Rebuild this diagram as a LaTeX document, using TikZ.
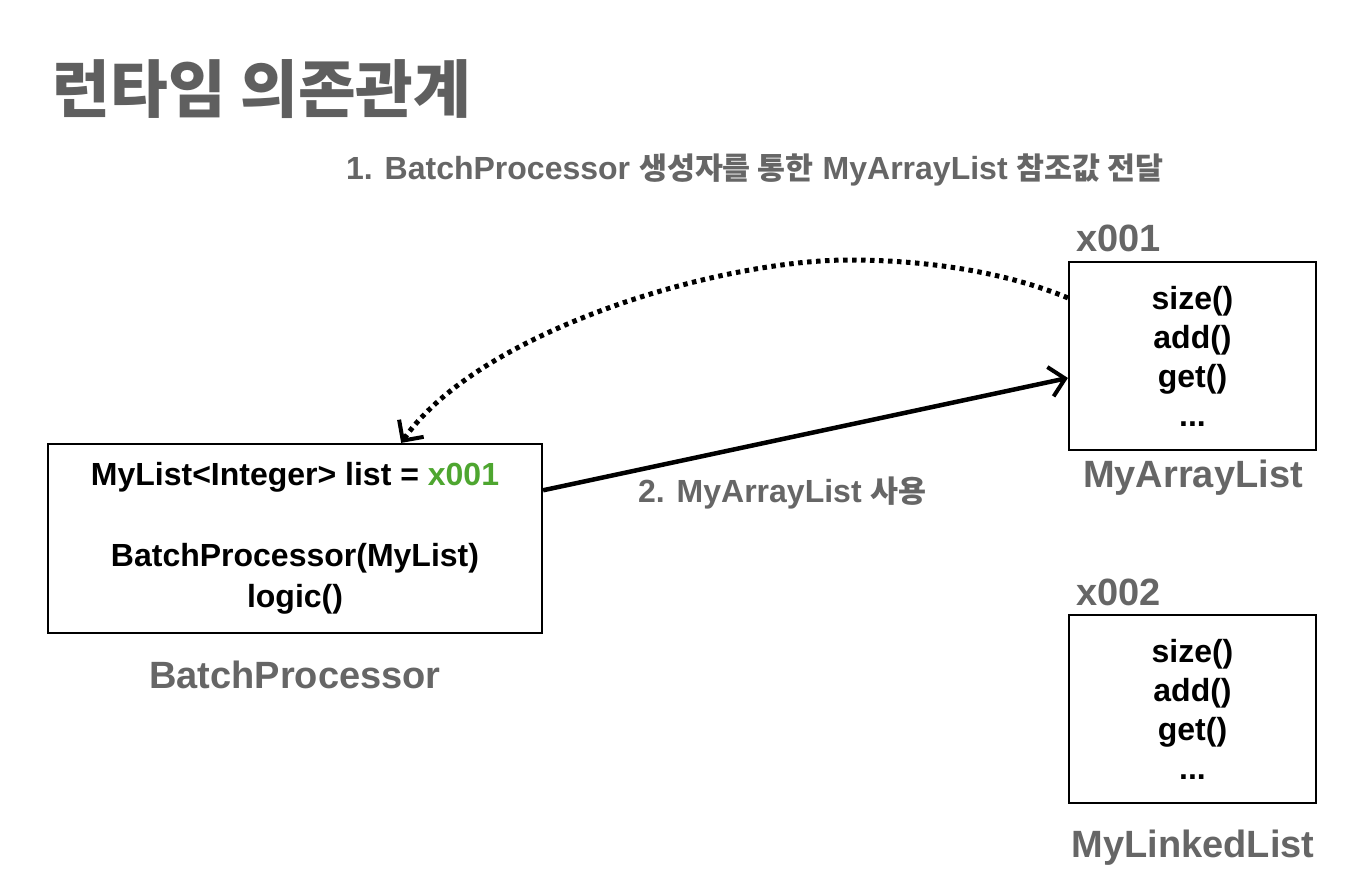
\documentclass[tikz,border=0pt]{standalone}
\usepackage{fontspec}
\setmainfont{Liberation Sans}
\newfontfamily\kr{Noto Sans CJK KR}[Scale=0.95]
\usetikzlibrary{arrows.meta}
\definecolor{labgray}{RGB}{102,102,102}
\definecolor{titlegray}{RGB}{95,95,95}
\definecolor{refgreen}{RGB}{78,166,48}
\newcommand\K[1]{{\kr #1}}
\tikzset{
  box/.style={draw=black, line width=2.2pt, rectangle, inner sep=0pt, align=center,
    font=\bfseries\fontsize{32}{39}\selectfont},
  graylab/.style={text=labgray, inner sep=0pt, font=\bfseries\fontsize{38}{42}\selectfont},
  steplab/.style={text=labgray, inner sep=0pt, font=\bfseries\fontsize{32}{36}\selectfont},
  solidarrow/.style={line width=4.5pt, -{Straight Barb[length=15pt,width=30pt,line width=4pt]}},
  dotarrow/.style={line width=5pt, dash pattern=on 4.5pt off 4.5pt,
    -{Straight Barb[length=15pt,width=30pt,line width=4pt]}}
}
\begin{document}
\begin{tikzpicture}[x=1pt,y=-1pt]
\useasboundingbox (0,0) rectangle (1366,880);
\fill[white] (0,0) rectangle (1366,880);

\node[text=titlegray, inner sep=0pt, font=\kr\bfseries\fontsize{66}{70}\selectfont] (title) at (262,89) {런타임 의존관계};

\node[steplab, anchor=west] (step1) at (346,170) {1. BatchProcessor \K{생성자를 통한} MyArrayList \K{참조값 전달}};

% MyArrayList box
\node[graylab, anchor=west] (addr1) at (1076,238) {x001};
\node[box, minimum width=247pt, minimum height=188pt] (arr) at (1192.5,356)
  {size()\\add()\\get()\\...};
\node[graylab] (arrname) at (1193,478) {MyArrayList};

% MyLinkedList box
\node[graylab, anchor=west] (addr2) at (1076,592) {x002};
\node[box, minimum width=247pt, minimum height=188pt] (lnk) at (1192.5,709)
  {size()\\add()\\get()\\...};
\node[graylab] (lnkname) at (1193,848) {MyLinkedList};

% BatchProcessor box
\node[box, minimum width=494pt, minimum height=189pt, font=\bfseries\fontsize{32}{40.5}\selectfont] (bp) at (295,538.5)
  {MyList<Integer> list = \textcolor{refgreen}{x001}\\[0pt] \\ BatchProcessor(MyList)\\logic()};
\node[graylab] (bpname) at (295,675) {BatchProcessor};

% connectors
\draw[solidarrow] (bp.11.6) -- (arr.190.8);
\node[steplab, anchor=west] (step2) at (638,493) {2. MyArrayList \K{사용}};

\coordinate (apex) at (849,260);
\draw[dotarrow] (arr.155.8) .. controls (1000,270) and (920,260) .. (apex)
  .. controls (720,260) and (480,330) .. (bp.42.5);
\end{tikzpicture}
\end{document}
